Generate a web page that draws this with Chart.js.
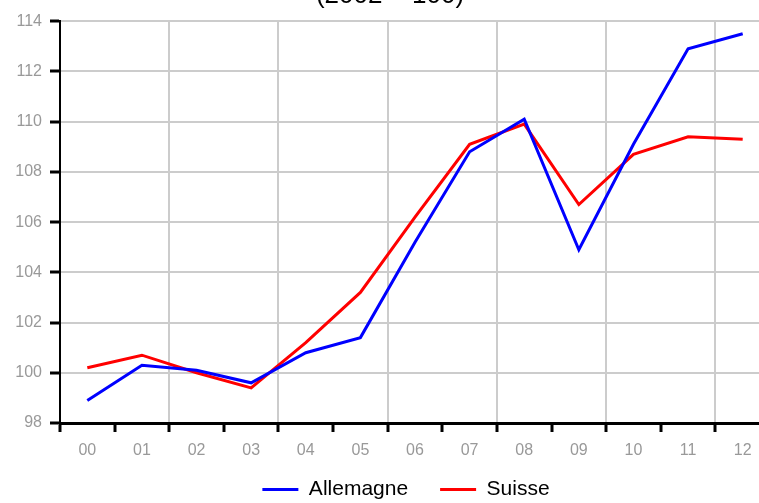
<!DOCTYPE html>
<html>
<head>
<meta charset="utf-8">
<script src="https://cdn.jsdelivr.net/npm/chart.js@4/dist/chart.umd.min.js"></script>
<style>
  html, body { margin: 0; padding: 0; background: #fff; overflow: hidden; }
  #wrap { position: absolute; left: 0; top: -30px; width: 790px; height: 561px; }
</style>
</head>
<body>
<div id="wrap"><canvas id="chartIndice" width="790" height="561"></canvas></div>
<script>
const annees = ["00", "01", "02", "03", "04", "05", "06", "07", "08", "09", "10", "11", "12"];
const allemagne = [98.9, 100.3, 100.1, 99.6, 100.8, 101.4, 105.2, 108.8, 110.1, 104.9, 109.1, 112.9, 113.5];
const suisse = [100.2, 100.7, 100.0, 99.4, 101.2, 103.2, 106.2, 109.1, 109.9, 106.7, 108.7, 109.4, 109.3];
const titre = "(2002 = 100)";

const police = "'Liberation Sans', Arial, sans-serif";

// le titre et la legende ne sont pas centres sur le canvas dans l'original
const decalage = {
    id: "decalage",
    afterLayout(chart) {
        const t = chart.titleBlock;
        const l = chart.legend;
        if (t) { t.left += 5; t.right += 5; }
        if (l) { l.left += 21; l.right += 21; l.top -= 21; l.bottom -= 21; }
    }
};

document.addEventListener("DOMContentLoaded", () => {
    const ctx = document.getElementById("chartIndice");

    new Chart(ctx, {
        type: "line",
        data: {
            labels: annees,
            datasets: [{
                label: "Allemagne",
                data: allemagne,
                borderColor: "#0000ff",
                backgroundColor: "#0000ff",
                borderWidth: 3,
                pointRadius: 0,
                tension: 0
            }, {
                label: "Suisse",
                data: suisse,
                borderColor: "#ff0000",
                backgroundColor: "#ff0000",
                borderWidth: 3,
                pointRadius: 0,
                tension: 0
            }]
        },
        plugins: [decalage],
        options: {
            responsive: false,
            animation: false,
            layout: { padding: { left: 0, right: 20, top: 0, bottom: 0 } },
            plugins: {
                title: {
                    display: true,
                    text: titre,
                    color: "#000",
                    font: { family: police, size: 26, weight: "normal" },
                    padding: { top: 10, bottom: 10 }
                },
                legend: {
                    position: "bottom",
                    labels: {
                        usePointStyle: true,
                        pointStyle: "line",
                        pointStyleWidth: 36,
                        padding: 32,
                        color: "#000",
                        font: { family: police, size: 21 }
                    }
                },
                tooltip: { enabled: false }
            },
            scales: {
                x: {
                    type: "category",
                    offset: true,
                    afterFit: (scale) => { scale.height = 45; },
                    grid: {
                        offset: true,
                        lineWidth: 2,
                        color: (c) => (c.index % 2 === 0 ? "#cccccc" : "rgba(0,0,0,0)"),
                        tickColor: "#000",
                        tickLength: 9,
                        tickWidth: 3
                    },
                    border: { color: "#000", width: 3 },
                    ticks: {
                        color: "#999",
                        padding: 9,
                        maxRotation: 0,
                        autoSkip: false,
                        font: { family: police, size: 16 }
                    }
                },
                y: {
                    min: 98,
                    max: 114,
                    afterFit: (scale) => { scale.width = 60; },
                    grid: {
                        lineWidth: 2,
                        color: "#cccccc",
                        tickColor: "#000",
                        tickLength: 10,
                        tickWidth: 3
                    },
                    border: { color: "#000", width: 2 },
                    ticks: {
                        stepSize: 2,
                        color: "#999",
                        padding: 8,
                        font: { family: police, size: 16 }
                    }
                }
            }
        }
    });
});
</script>
</body>
</html>
